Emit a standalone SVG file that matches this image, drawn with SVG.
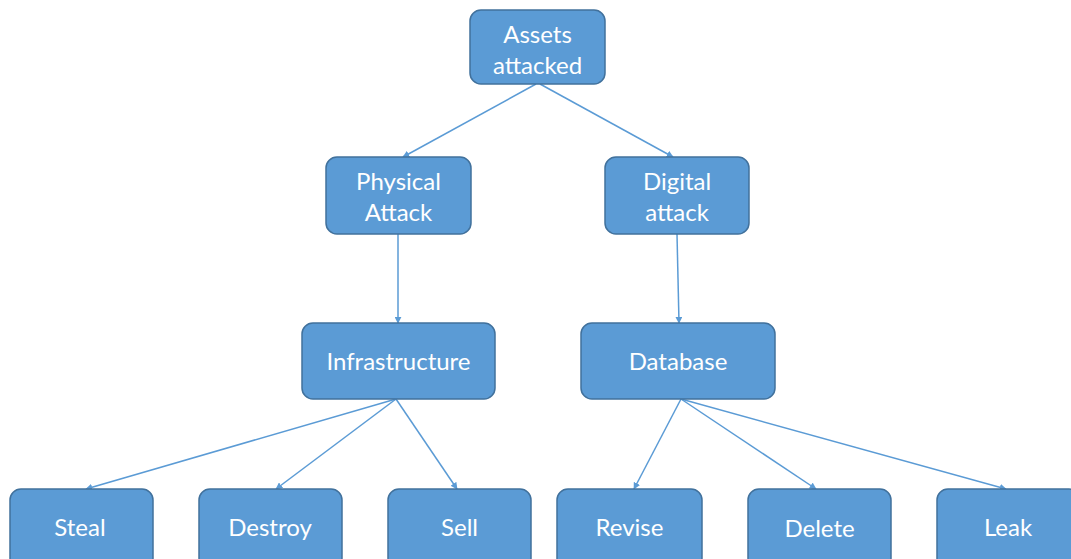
<svg xmlns="http://www.w3.org/2000/svg" width="1071" height="559" viewBox="0 0 1071 559">
<style>
.box{fill:#5B9BD5;stroke:#41719C;stroke-width:1.5}
.lbl{fill:#ffffff;font-family:Lato,"Open Sans","Liberation Sans",sans-serif;font-size:24px;text-anchor:middle;dominant-baseline:central}
.conn{stroke:#5B9BD5;stroke-width:1.5;fill:none;marker-end:url(#arr)}
</style>
<defs>
<marker id="arr" viewBox="0 0 10 10" refX="9" refY="5" markerWidth="7" markerHeight="7" orient="auto" markerUnits="userSpaceOnUse">
<path d="M0,0 L10,5 L0,10 z" fill="#5B9BD5"/>
</marker>
</defs>
<rect width="1071" height="559" fill="#ffffff"/>
<g id="connectors">
<line class="conn" x1="536" y1="84" x2="403" y2="157"/>
<line class="conn" x1="540" y1="84" x2="673" y2="157"/>
<line class="conn" x1="398" y1="234" x2="398" y2="323"/>
<line class="conn" x1="677" y1="234" x2="679" y2="323"/>
<line class="conn" x1="396" y1="399" x2="86" y2="489"/>
<line class="conn" x1="396" y1="399" x2="276" y2="489"/>
<line class="conn" x1="396" y1="399" x2="457" y2="489"/>
<line class="conn" x1="681" y1="399" x2="634" y2="489"/>
<line class="conn" x1="681" y1="399" x2="816" y2="489"/>
<line class="conn" x1="681" y1="399" x2="1006" y2="489"/>
</g>
<g id="assets"><rect class="box" x="470" y="10" width="135" height="74" rx="11"/><text class="lbl" x="537.5" y="33">Assets</text><text class="lbl" x="537.5" y="64">attacked</text></g>
<g id="physical"><rect class="box" x="326" y="157" width="145" height="77" rx="11"/><text class="lbl" x="398.5" y="180">Physical</text><text class="lbl" x="398.5" y="211">Attack</text></g>
<g id="digital"><rect class="box" x="605" y="157" width="144" height="77" rx="11"/><text class="lbl" x="677" y="180">Digital</text><text class="lbl" x="677" y="211">attack</text></g>
<g id="infrastructure"><rect class="box" x="302" y="323" width="193" height="76" rx="11"/><text class="lbl" x="398.5" y="360">Infrastructure</text></g>
<g id="database"><rect class="box" x="581" y="323" width="194" height="76" rx="11"/><text class="lbl" x="678" y="360">Database</text></g>
<g id="steal"><rect class="box" x="10" y="489" width="143" height="80" rx="11"/><text class="lbl" x="80" y="526">Steal</text></g>
<g id="destroy"><rect class="box" x="199" y="489" width="143" height="80" rx="11"/><text class="lbl" x="270" y="526">Destroy</text></g>
<g id="sell"><rect class="box" x="388" y="489" width="143" height="80" rx="11"/><text class="lbl" x="459.5" y="526">Sell</text></g>
<g id="revise"><rect class="box" x="557" y="489" width="145" height="80" rx="11"/><text class="lbl" x="629.5" y="526">Revise</text></g>
<g id="delete"><rect class="box" x="748" y="489" width="143" height="80" rx="11"/><text class="lbl" x="819.5" y="527">Delete</text></g>
<g id="leak"><rect class="box" x="937" y="489" width="143" height="80" rx="11"/><text class="lbl" x="1008" y="526">Leak</text></g>
</svg>
